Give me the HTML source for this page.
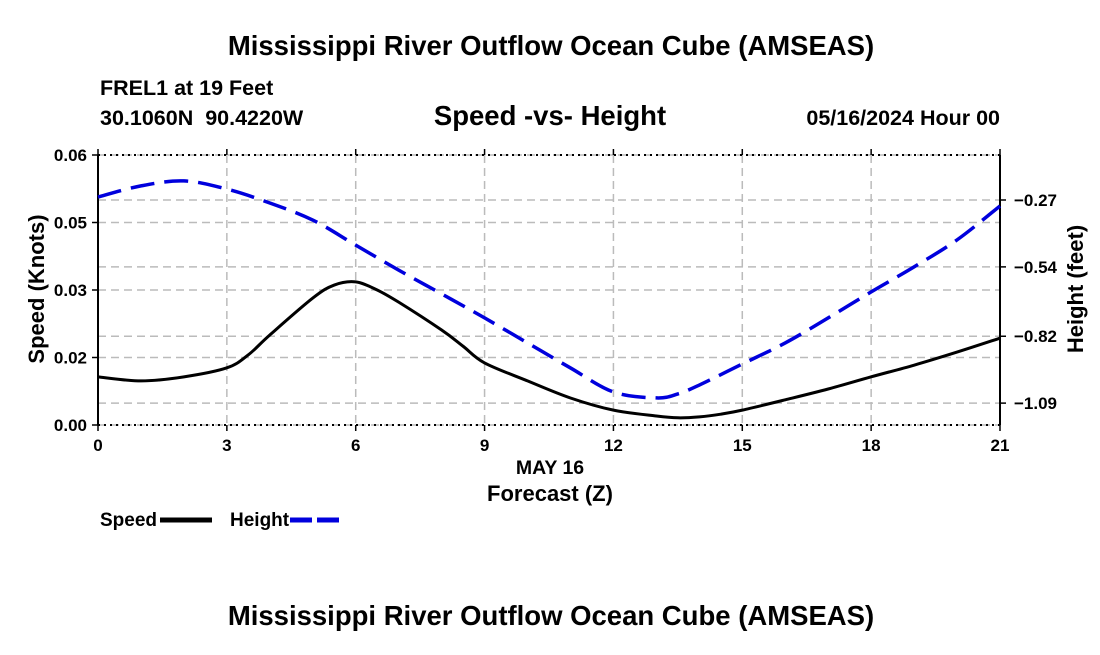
<!DOCTYPE html>
<html><head><meta charset="utf-8"><style>
body{margin:0;background:#fff;width:1100px;height:650px;overflow:hidden}
text{font-family:"Liberation Sans",sans-serif;font-weight:bold;fill:#000}
</style></head><body>
<svg id="c" width="1100" height="650">
<text x="551" y="55" font-size="27.5" text-anchor="middle">Mississippi River Outflow Ocean Cube (AMSEAS)</text>
<text x="100" y="95" font-size="21.5">FREL1 at 19 Feet</text>
<text x="100" y="125" font-size="21.5" xml:space="preserve">30.1060N  90.4220W</text>
<text x="550" y="125" font-size="27.5" text-anchor="middle">Speed -vs- Height</text>
<text x="1000" y="125" font-size="21.5" text-anchor="end">05/16/2024 Hour 00</text>
<g id="grid"></g>
<g id="axes"></g>
<g id="series"></g>
<text transform="translate(44,289) rotate(-90)" font-size="22" text-anchor="middle">Speed (Knots)</text>
<text transform="translate(1083,289) rotate(-90)" font-size="22" text-anchor="middle">Height (feet)</text>
<text x="550" y="474" font-size="19.5" text-anchor="middle">MAY 16</text>
<text x="550" y="501" font-size="22" text-anchor="middle">Forecast (Z)</text>
<g><text x="100" y="526" font-size="19">Speed</text><line x1="160" y1="520" x2="212" y2="520" stroke="#000" stroke-width="5"/></g>
<g><text x="230" y="526" font-size="19">Height</text><line x1="290" y1="520" x2="342" y2="520" stroke="#0000dd" stroke-width="5" stroke-dasharray="22,5"/></g>
<text x="551" y="625" font-size="27.5" text-anchor="middle">Mississippi River Outflow Ocean Cube (AMSEAS)</text>
</svg>
<script>
const xTicks=[0,3,6,9,12,15,18,21];
const leftTickVals=[0,0.015,0.03,0.045,0.06];
const leftTickLabels=["0.00","0.02","0.03","0.05","0.06"];
const rightTickVals=[-0.27,-0.54,-0.82,-1.09];
const rightTickLabels=["-0.27","-0.54","-0.82","-1.09"];
const speedHours=[0,1,2,3,3.5,4,5,5.5,6,6.5,7,8,8.5,9,10,11,12,13,13.5,14,14.5,15,16,17,18,19,20,21];
const speedVals=[0.0107,0.0098,0.0107,0.0127,0.0156,0.02,0.0282,0.0311,0.0318,0.03,0.0273,0.0211,0.0175,0.0138,0.0098,0.006,0.0033,0.002,0.0016,0.0018,0.0024,0.0033,0.0056,0.008,0.0107,0.0133,0.0162,0.0193];
const heightHours=[0,1,2,3,4,5,6,7,8,9,10,11,12,13,13.5,14,15,16,17,18,19,20,21];
const heightVals=[-0.258,-0.213,-0.193,-0.226,-0.282,-0.351,-0.452,-0.553,-0.649,-0.746,-0.847,-0.948,-1.045,-1.069,-1.053,-1.017,-0.932,-0.847,-0.746,-0.641,-0.540,-0.431,-0.294];
const X0=98,X1=1000,Y0=425,Y1=155;
const xs=h=>X0+(h/21)*(X1-X0);
const ys=v=>Y0-(v/0.06)*(Y0-Y1);
const yh=v=>200+(-0.27-v)/0.2725*67.5;
const NS="http://www.w3.org/2000/svg";
function mk(p,t,a){const e=document.createElementNS(NS,t);for(const k in a)e.setAttribute(k,a[k]);document.getElementById(p).appendChild(e);return e;}
xTicks.forEach(h=>{const e=mk('grid','line',{x1:xs(h),x2:xs(h),y1:Y1,y2:Y0,stroke:'#bbb','stroke-width':1.5,'stroke-dasharray':'8,5'});

const t=mk('axes','text',{x:xs(h),y:451,'font-size':17,'text-anchor':'middle'});t.textContent=h;

mk('axes','line',{x1:xs(h),x2:xs(h),y1:Y0,y2:Y0+6,stroke:'#000','stroke-width':1.5});
mk('axes','line',{x1:xs(h),x2:xs(h),y1:Y1,y2:Y1-6,stroke:'#000','stroke-width':1.5});});
leftTickVals.forEach((v,i)=>{const y=ys(v);
const e=mk('grid','line',{x1:X0,x2:X1,y1:y,y2:y,stroke:'#bbb','stroke-width':1.5,'stroke-dasharray':'8,5'});

mk('axes','line',{x1:X0-6,x2:X0,y1:y,y2:y,stroke:'#000','stroke-width':1.5});
const t=mk('axes','text',{x:X0-11,y:y+6,'font-size':17,'text-anchor':'end'});t.textContent=leftTickLabels[i];
});
rightTickVals.forEach((v,i)=>{const y=yh(v);
const e=mk('grid','line',{x1:X0,x2:X1,y1:y,y2:y,stroke:'#bbb','stroke-width':1.5,'stroke-dasharray':'8,5'});

mk('axes','line',{x1:X1,x2:X1+6,y1:y,y2:y,stroke:'#000','stroke-width':1.5});
const t=mk('axes','text',{x:X1+14,y:y+6,'font-size':17});t.textContent=rightTickLabels[i].replace('-','\u2212');
});
mk('axes','line',{x1:X0,x2:X1,y1:Y1,y2:Y1,stroke:'#000','stroke-width':2,'stroke-dasharray':'2,4'});
mk('axes','line',{x1:X0,x2:X1,y1:Y0,y2:Y0,stroke:'#000','stroke-width':2,'stroke-dasharray':'2,4'});
mk('axes','line',{x1:X0,x2:X0,y1:Y1,y2:Y0,stroke:'#000','stroke-width':2});
mk('axes','line',{x1:X1,x2:X1,y1:Y1,y2:Y0,stroke:'#000','stroke-width':2});
function smooth(pts){let d='M'+pts[0][0]+','+pts[0][1];for(let i=0;i<pts.length-1;i++){const p0=pts[Math.max(0,i-1)],p1=pts[i],p2=pts[i+1],p3=pts[Math.min(pts.length-1,i+2)];
d+=` C${p1[0]+(p2[0]-p0[0])/6},${p1[1]+(p2[1]-p0[1])/6} ${p2[0]-(p3[0]-p1[0])/6},${p2[1]-(p3[1]-p1[1])/6} ${p2[0]},${p2[1]}`;}return d;}
const sp=mk('series','path',{d:smooth(speedHours.map((h,i)=>[xs(h),ys(speedVals[i])])),fill:'none',stroke:'#000','stroke-width':3});

const hp=mk('series','path',{d:smooth(heightHours.map((h,i)=>[xs(h),yh(heightVals[i])])),fill:'none',stroke:'#0000dd','stroke-width':3.5,'stroke-dasharray':'24,10'});

</script>
</body></html>
